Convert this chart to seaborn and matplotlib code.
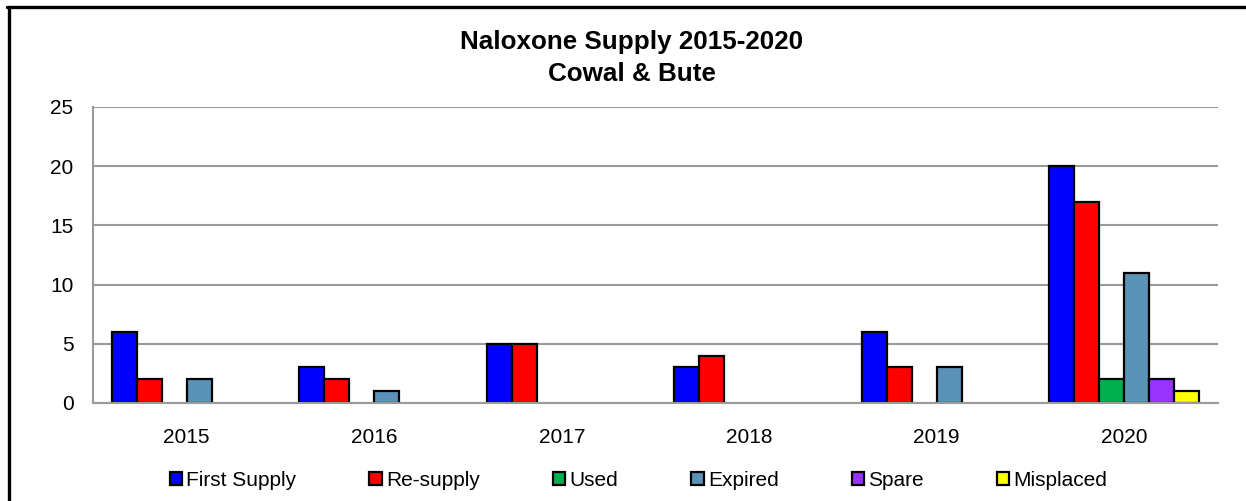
import numpy as np
import pandas as pd
import matplotlib
matplotlib.use("Agg")
import matplotlib.pyplot as plt
import seaborn as sns
from matplotlib.lines import Line2D

years = ["2015", "2016", "2017", "2018", "2019", "2020"]
series_names = ["First Supply", "Re-supply", "Used", "Expired", "Spare", "Misplaced"]
first_supply = [6, 3, 5, 3, 6, 20]
re_supply = [2, 2, 5, 4, 3, 17]
used = [0, 0, 0, 0, 0, 2]
expired = [2, 1, 0, 0, 3, 11]
spare = [0, 0, 0, 0, 0, 2]
misplaced = [0, 0, 0, 0, 0, 1]
colors = ["#0000FF", "#FF0000", "#00B050", "#5B93B8", "#9933FF", "#FFFF00"]

values = [first_supply, re_supply, used, expired, spare, misplaced]
rows = []
for name, vals in zip(series_names, values):
    for y, v in zip(years, vals):
        rows.append({"Year": y, "Series": name, "Value": v})
df = pd.DataFrame(rows)

sns.set_style("white")
plt.rcParams["font.family"] = ["Liberation Sans", "DejaVu Sans"]
plt.rcParams["text.color"] = "black"
plt.rcParams["xtick.color"] = "black"
plt.rcParams["ytick.color"] = "black"

fig = plt.figure(figsize=(12.46, 5.01), dpi=100)
ax = fig.add_axes([93/1246, 1-403/501, (1218-93)/1246, (403-107)/501])

sns.barplot(data=df, x="Year", y="Value", hue="Series", order=years,
            hue_order=series_names, palette=colors, width=0.8, gap=0,
            edgecolor="black", linewidth=1.6, saturation=1, ax=ax, legend=False)

for p in ax.patches:
    if p.get_height() == 0:
        p.set_visible(False)

grid_col = "#9A9A9A"
ax.set_ylim(0, 25)
ax.set_xlim(-0.5, len(years) - 0.5)
ax.set_yticks(np.arange(0, 26, 5))
ax.yaxis.grid(True, color=grid_col, linewidth=1.5)
ax.set_axisbelow(True)
ax.set_xlabel("")
ax.set_ylabel("")
for s in ["top", "right"]:
    ax.spines[s].set_visible(False)
for s in ["left", "bottom"]:
    ax.spines[s].set_color(grid_col)
    ax.spines[s].set_linewidth(1.5)

ax.tick_params(axis="y", length=6, width=1.5, color=grid_col, labelcolor="black",
               pad=8, labelsize=15)
ax.tick_params(axis="x", which="major", length=0, pad=18, labelsize=15,
               labelcolor="black")
ax.set_xticks(np.arange(-0.5, len(years)), minor=True)
ax.tick_params(axis="x", which="minor", length=6, width=1.5, color=grid_col)

handles = [plt.Rectangle((0, 0), 1, 1, facecolor=c, edgecolor="black", linewidth=1.6)
           for c in colors]
leg = fig.legend(handles, series_names, loc="center",
                 bbox_to_anchor=(638.5/1246, 1-480/501),
                 ncol=6, frameon=False, fontsize=15, handlelength=0.6,
                 handleheight=0.6, handletextpad=0.2, columnspacing=3.5)
for t in leg.get_texts():
    t.set_color("black")

fig.text(632/1246, 1-42/501, "Naloxone Supply 2015-2020", ha="center", va="center",
         fontsize=18.7, fontweight="bold", color="black")
fig.text(632/1246, 1-74/501, "Cowal & Bute", ha="center", va="center",
         fontsize=18.7, fontweight="bold", color="black")

# chart border (left and top edges visible)
fig.add_artist(Line2D([8.5/1246, 8.5/1246], [0, 1-6.5/501], color="black",
                      linewidth=2.4, transform=fig.transFigure))
fig.add_artist(Line2D([7/1246, 1], [1-6.5/501, 1-6.5/501], color="black",
                      linewidth=2.4, transform=fig.transFigure))

fig.savefig("out.png", dpi=100)
